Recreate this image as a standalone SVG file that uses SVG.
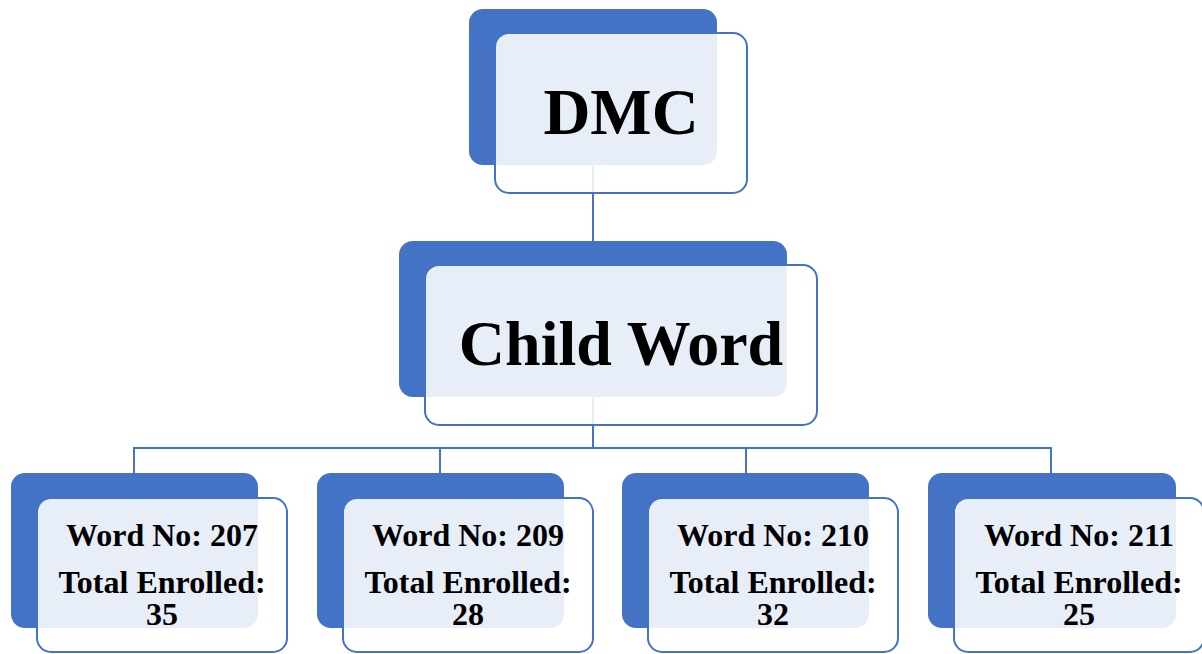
<svg xmlns="http://www.w3.org/2000/svg" width="1202" height="654" viewBox="0 0 1202 654">
<style>
.back{fill:#4472C4}
.front{fill:#ffffff;fill-opacity:0.88;stroke:#4472C4;stroke-width:2}
.conn{fill:none;stroke:#4472C4;stroke-width:2}
.big{font-family:"Liberation Serif","Times New Roman",serif;font-weight:bold;fill:#000;text-anchor:middle}
.sm{font-family:"Liberation Serif","Times New Roman",serif;font-weight:bold;font-size:32px;fill:#000;text-anchor:middle}
</style>
<rect width="1202" height="654" fill="#fff"/>
<g id="connectors">
<path class="conn" d="M593 165V241"/>
<path class="conn" d="M593 397V448M134 473V448H1051V473M440 448V473M746 448V473"/>
</g>
<g id="dmc">
<rect class="back" x="469" y="9" width="248" height="156" rx="14"/>
<rect class="front" x="495" y="33" width="252" height="160" rx="14"/>
<text class="big" x="621" y="134" font-size="65">DMC</text>
</g>
<g id="child-word">
<rect class="back" x="399" y="241" width="388" height="156" rx="14"/>
<rect class="front" x="425" y="265" width="392" height="160" rx="14"/>
<text class="big" x="621" y="365" font-size="64">Child Word</text>
</g>
<g id="word-207">
<rect class="back" x="11" y="473" width="247" height="155" rx="14"/>
<rect class="front" x="37" y="498" width="250" height="154" rx="14"/>
<text class="sm" x="162" y="546">Word No: 207</text>
<text class="sm" x="162" y="593">Total Enrolled:</text>
<text class="sm" x="162" y="625">35</text>
</g>
<g id="word-209">
<rect class="back" x="317" y="473" width="247" height="155" rx="14"/>
<rect class="front" x="343" y="498" width="250" height="154" rx="14"/>
<text class="sm" x="468" y="546">Word No: 209</text>
<text class="sm" x="468" y="593">Total Enrolled:</text>
<text class="sm" x="468" y="625">28</text>
</g>
<g id="word-210">
<rect class="back" x="622" y="473" width="247" height="155" rx="14"/>
<rect class="front" x="648" y="498" width="250" height="154" rx="14"/>
<text class="sm" x="773" y="546">Word No: 210</text>
<text class="sm" x="773" y="593">Total Enrolled:</text>
<text class="sm" x="773" y="625">32</text>
</g>
<g id="word-211">
<rect class="back" x="928" y="473" width="248" height="155" rx="14"/>
<rect class="front" x="954" y="498" width="250" height="154" rx="14"/>
<text class="sm" x="1079" y="546">Word No: 211</text>
<text class="sm" x="1079" y="593">Total Enrolled:</text>
<text class="sm" x="1079" y="625">25</text>
</g>
</svg>
